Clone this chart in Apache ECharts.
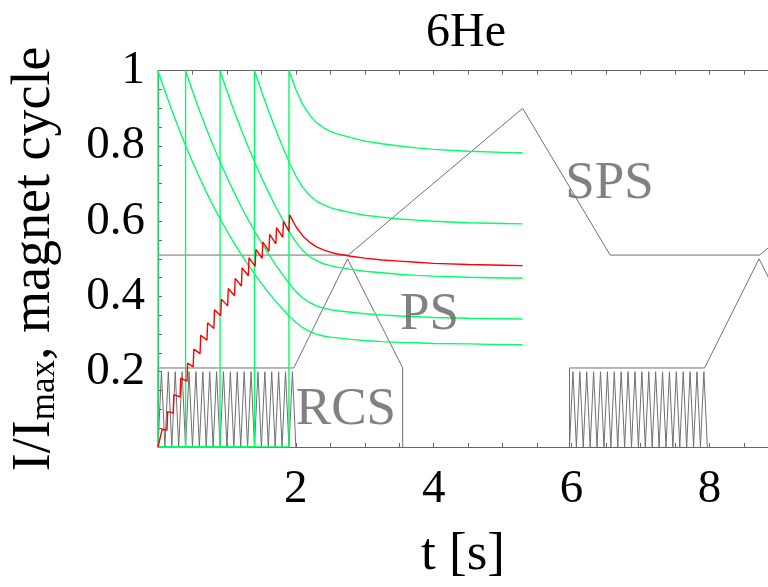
<!DOCTYPE html>
<html>
<head>
<meta charset="utf-8">
<title>6He magnet cycle</title>
<script src="https://cdn.jsdelivr.net/npm/echarts@6/dist/echarts.min.js"></script>
<style>
  html, body { margin: 0; padding: 0; background: #fff; }
  #chart { width: 768px; height: 587px; }
</style>
</head>
<body>
<div id="chart"></div>
<script>
// time grid (s) used while the RCS fills the PS
const gridT = [0, 0.1, 0.2, 0.3, 0.4, 0.5, 0.6, 0.7, 0.8, 0.9, 1.0, 1.1, 1.2, 1.3, 1.4, 1.5, 1.6, 1.7, 1.8, 1.9];
// time points after the last injection, up to SPS top
const tailT = [2.0, 2.1, 2.2, 2.3, 2.4, 2.5, 2.6, 2.8, 3.0, 3.25, 3.5, 3.75, 4.0, 4.5, 5.0, 5.29];

// green batches: injection time, decay on gridT from injection, then tail
const batchStart = [0, 0.4, 0.9, 1.4, 1.9];
const batch1Decay = [1, 0.946, 0.895, 0.847, 0.801, 0.758, 0.717, 0.678, 0.641, 0.607, 0.574, 0.543, 0.514, 0.486, 0.46, 0.435, 0.411, 0.389, 0.368, 0.348];
const batch2Decay = [1, 0.946, 0.895, 0.847, 0.801, 0.758, 0.717, 0.678, 0.641, 0.607, 0.574, 0.543, 0.514, 0.486, 0.46, 0.435];
const batch3Decay = [1, 0.946, 0.895, 0.847, 0.801, 0.758, 0.717, 0.678, 0.641, 0.607, 0.574];
const batch4Decay = [1, 0.946, 0.895, 0.847, 0.801, 0.758];
const batch5Decay = [1];
const batch1Tail = [0.331, 0.317, 0.307, 0.3, 0.295, 0.292, 0.29, 0.286, 0.283, 0.28, 0.278, 0.277, 0.275, 0.274, 0.272, 0.272];
const batch2Tail = [0.413, 0.396, 0.384, 0.375, 0.369, 0.365, 0.362, 0.358, 0.354, 0.351, 0.348, 0.346, 0.344, 0.342, 0.341, 0.34];
const batch3Tail = [0.545, 0.522, 0.506, 0.495, 0.487, 0.482, 0.478, 0.472, 0.467, 0.463, 0.459, 0.456, 0.454, 0.451, 0.449, 0.449];
const batch4Tail = [0.72, 0.69, 0.669, 0.653, 0.644, 0.636, 0.631, 0.623, 0.616, 0.611, 0.606, 0.603, 0.6, 0.596, 0.594, 0.593];
const batch5Tail = [0.95, 0.91, 0.882, 0.862, 0.849, 0.839, 0.832, 0.822, 0.813, 0.806, 0.8, 0.795, 0.791, 0.786, 0.783, 0.782];

// red: total stored intensity (stacking)
const redT = [0, 0.06, 0.13, 0.14, 0.22, 0.23, 0.32, 0.33, 0.42, 0.43, 0.51, 0.52, 0.61, 0.62, 0.71, 0.72, 0.81, 0.82, 0.91, 0.92,
  1.01, 1.02, 1.11, 1.12, 1.21, 1.22, 1.31, 1.32, 1.41, 1.42, 1.51, 1.52, 1.61, 1.62, 1.71, 1.72, 1.81, 1.82, 1.9, 1.91];
const redY = [0, 0.047, 0.045, 0.094, 0.09, 0.139, 0.133, 0.183, 0.175, 0.223, 0.213, 0.26, 0.248, 0.297, 0.284, 0.33, 0.315, 0.365, 0.349, 0.393,
  0.375, 0.421, 0.402, 0.448, 0.428, 0.476, 0.455, 0.503, 0.48, 0.525, 0.501, 0.545, 0.52, 0.565, 0.54, 0.583, 0.557, 0.6, 0.573, 0.617];
const redTail = [0.586, 0.561, 0.544, 0.532, 0.524, 0.518, 0.513, 0.507, 0.502, 0.497, 0.494, 0.491, 0.488, 0.485, 0.483, 0.482];

// grey magnet cycles
const spsT = [0, 2.76, 5.29, 6.56, 8.73, 9.0];
const spsY = [0.51, 0.51, 0.9, 0.51, 0.51, 0.552];
const ps1T = [0, 0, 1.97, 2.75, 3.55, 3.55];
const ps1Y = [0, 0.21, 0.21, 0.5, 0.21, 0];
const ps2T = [5.97, 5.97, 7.93, 8.72, 9.52];
const ps2Y = [0, 0.21, 0.21, 0.5, 0.21];
const rcs1T = [0, 0.05, 0.1, 0.15, 0.2, 0.25, 0.3, 0.35, 0.4, 0.45, 0.5, 0.55, 0.6, 0.65, 0.7, 0.75, 0.8, 0.85, 0.9, 0.95,
  1.0, 1.05, 1.1, 1.15, 1.2, 1.25, 1.3, 1.35, 1.4, 1.45, 1.5, 1.55, 1.6, 1.65, 1.7, 1.75, 1.8, 1.85, 1.9, 1.95, 2.0];
const rcs2T = [5.97, 6.02, 6.07, 6.12, 6.17, 6.22, 6.27, 6.32, 6.37, 6.42, 6.47, 6.52, 6.57, 6.62, 6.67, 6.72, 6.77, 6.82, 6.87, 6.92,
  6.97, 7.02, 7.07, 7.12, 7.17, 7.22, 7.27, 7.32, 7.37, 7.42, 7.47, 7.52, 7.57, 7.62, 7.67, 7.72, 7.77, 7.82, 7.87, 7.92, 7.97];
const rcsY = [0, 0.2, 0, 0.2, 0, 0.2, 0, 0.2, 0, 0.2, 0, 0.2, 0, 0.2, 0, 0.2, 0, 0.2, 0, 0.2,
  0, 0.2, 0, 0.2, 0, 0.2, 0, 0.2, 0, 0.2, 0, 0.2, 0, 0.2, 0, 0.2, 0, 0.2, 0, 0.2, 0];

// tick labels
const xTickValues = [2, 4, 6, 8];
const yTickValues = [0.2, 0.4, 0.6, 0.8, 1];
const yTickLabels = ["0.2", "0.4", "0.6", "0.8", "1"];

// machine names
const machineNames = ["RCS", "PS", "SPS"];

const SERIF = '"Liberation Serif", "Times New Roman", serif';
const GREY = "#707070";
const GREEN = "#00ff66";

const zip = (t, y) => t.map((v, i) => [v, y[i]]);

const batchPoints = (start, decay, tail) => {
  const i0 = gridT.indexOf(start);
  const pts = start > 0 ? [[0, 0], [start, 0]] : [[0, 0]];
  decay.forEach((v, k) => pts.push([gridT[i0 + k], v]));
  tail.forEach((v, k) => pts.push([tailT[k], v]));
  return pts;
};

const greyLine = (name, data) => ({
  name, type: "line", data, symbol: "none", silent: true,
  lineStyle: { color: GREY, width: 1 }, z: 2
});
const greenLine = (name, data) => ({
  name, type: "line", data, symbol: "none", silent: true,
  lineStyle: { color: GREEN, width: 1.4 }, z: 3
});

const batches = [
  batchPoints(batchStart[0], batch1Decay, batch1Tail),
  batchPoints(batchStart[1], batch2Decay, batch2Tail),
  batchPoints(batchStart[2], batch3Decay, batch3Tail),
  batchPoints(batchStart[3], batch4Decay, batch4Tail),
  batchPoints(batchStart[4], batch5Decay, batch5Tail)
];
const redData = zip(redT, redY).concat(zip(tailT, redTail));

// label anchors in data units (left edge, vertical middle)
const nameAnchors = [[2.0, 0.099], [3.51, 0.351], [5.91, 0.7]];

const chart = echarts.init(document.getElementById("chart"));

const option = {
  animation: false,
  backgroundColor: "#fff",
  grid: { left: 157.5, top: 70.7, right: 0, bottom: 134.5, containLabel: false },
  graphic: [
    {
      type: "text", x: 466, y: 33, silent: true,
      style: { text: "6He", font: '48px ' + SERIF, fill: "#000", align: "center", verticalAlign: "middle", textAlign: "center", textVerticalAlign: "middle" }
    }
  ],
  xAxis: [
    {
      type: "value", position: "bottom", min: 0, max: 8.85, interval: 0.5,
      axisLine: { show: true, onZero: false, lineStyle: { color: "#666", width: 1 } },
      axisTick: { show: true, inside: true, length: 4, lineStyle: { color: "#666" } },
      splitLine: { show: false },
      axisLabel: {
        margin: 19, color: "#000", fontFamily: SERIF, fontSize: 47, showMaxLabel: false,
        formatter: (v) => (xTickValues.indexOf(Math.round(v * 100) / 100) >= 0 ? String(Math.round(v)) : "")
      },
      name: "t [s]", nameLocation: "middle", nameGap: 82,
      nameTextStyle: { color: "#000", fontFamily: SERIF, fontSize: 53 }
    },
    {
      type: "value", position: "top", min: 0, max: 8.85, interval: 0.5,
      axisLine: { show: true, onZero: false, lineStyle: { color: "#666", width: 1 } },
      axisTick: { show: true, inside: true, length: 4, lineStyle: { color: "#666" } },
      splitLine: { show: false },
      axisLabel: { show: false }
    }
  ],
  yAxis: {
    type: "value", min: 0, max: 1, interval: 0.05,
    axisLine: { show: true, onZero: false, lineStyle: { color: "#666", width: 1 } },
    axisTick: { show: true, inside: true, length: 4, lineStyle: { color: "#666" } },
    splitLine: { show: false },
    axisLabel: {
      margin: 13, color: "#000", fontFamily: SERIF, fontSize: 47, padding: [6, 0, 0, 0],
      formatter: (v) => {
        const i = yTickValues.indexOf(Math.round(v * 100) / 100);
        return i >= 0 ? yTickLabels[i] : "";
      }
    },
    name: "I/I{sub|max}, magnet cycle", nameLocation: "middle", nameRotate: 90, nameGap: 96,
    nameTextStyle: {
      color: "#000", fontFamily: SERIF, fontSize: 54, lineHeight: 54,
      rich: { sub: { fontFamily: SERIF, fontSize: 35, lineHeight: 20, verticalAlign: "bottom", color: "#000" } }
    }
  },
  series: [
    greyLine("SPS", zip(spsT, spsY)),
    greyLine("PS 1", zip(ps1T, ps1Y)),
    greyLine("PS 2", zip(ps2T, ps2Y)),
    greyLine("RCS 1", zip(rcs1T, rcsY)),
    greyLine("RCS 2", zip(rcs2T, rcsY)),
    greenLine("batch 1", batches[0]),
    greenLine("batch 2", batches[1]),
    greenLine("batch 3", batches[2]),
    greenLine("batch 4", batches[3]),
    greenLine("batch 5", batches[4]),
    {
      name: "stack", type: "line", data: redData, symbol: "none", silent: true,
      lineStyle: { color: "#ff0000", width: 1.4 }, z: 4
    },
    {
      name: "machines", type: "scatter", symbolSize: 0, silent: true, z: 5,
      data: nameAnchors.map((p, i) => [p[0], p[1], machineNames[i]]),
      label: {
        show: true, position: "right", distance: 0,
        formatter: (p) => p.data[2],
        fontFamily: SERIF, fontSize: 53, color: "#616161"
      }
    }
  ]
};

chart.setOption(option);
window.addEventListener("resize", () => chart.resize());
</script>
</body>
</html>
